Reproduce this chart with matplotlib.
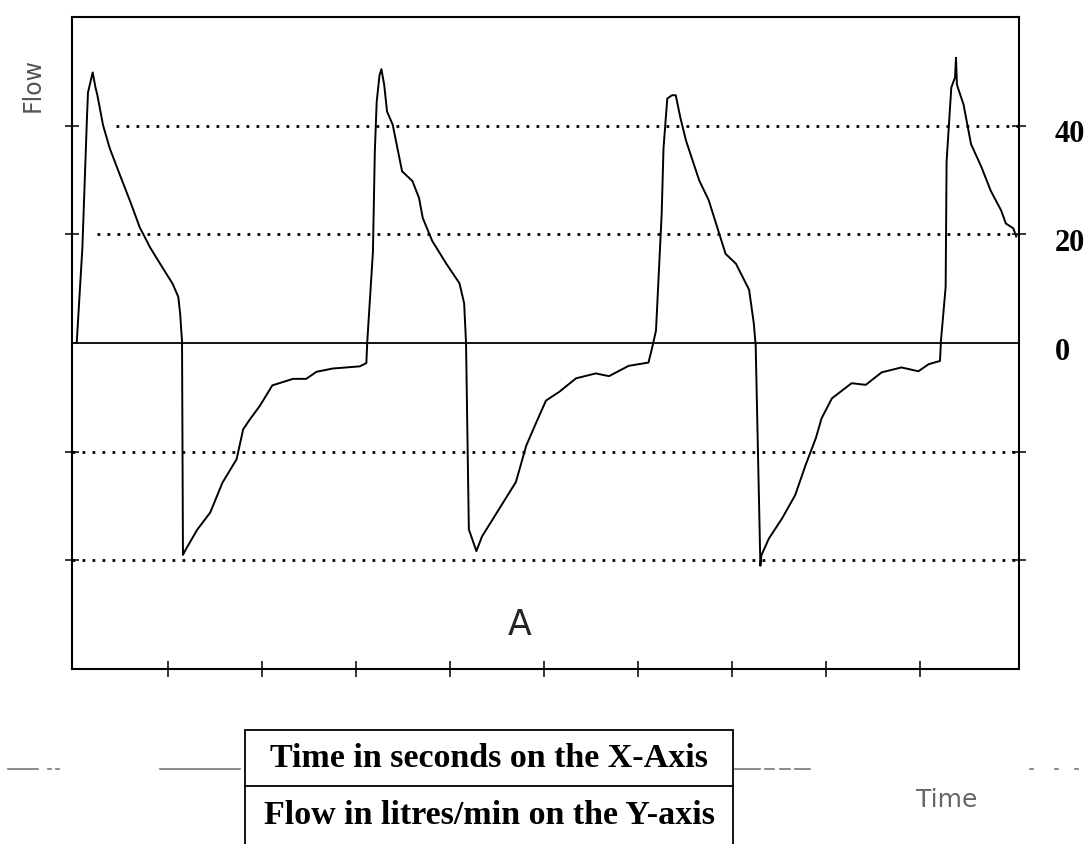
import matplotlib.pyplot as plt
from matplotlib.patches import Rectangle
from matplotlib.lines import Line2D

# flow trace (time in s, flow in litres/min)
time_s = [0.03, 0.09, 0.14, 0.15, 0.20, 0.23, 0.25, 0.31, 0.38, 0.49, 0.60, 0.70, 0.81,
          0.92, 1.05, 1.11, 1.13, 1.15, 1.16, 1.18, 1.31, 1.45, 1.58, 1.73, 1.80, 1.87,
          1.98, 2.11, 2.33, 2.47, 2.58, 2.75, 3.04, 3.11, 3.12,
          3.18, 3.20, 3.22, 3.25, 3.27, 3.30, 3.33, 3.39, 3.49, 3.60, 3.67, 3.71, 3.81,
          3.96, 4.10, 4.15, 4.17, 4.20, 4.28, 4.34, 4.52, 4.70, 4.81, 4.92, 5.02, 5.16,
          5.34, 5.55, 5.69, 5.90, 6.11, 6.15,
          6.19, 6.25, 6.27, 6.31, 6.36, 6.40, 6.45, 6.51, 6.65, 6.75, 6.93, 7.04, 7.18,
          7.23, 7.25, 7.30, 7.31, 7.39, 7.53, 7.67, 7.78, 7.89, 7.95, 8.06, 8.27, 8.42,
          8.59, 8.80, 8.98, 9.09, 9.21, 9.22,
          9.27, 9.28, 9.33, 9.37, 9.38, 9.39, 9.40, 9.46, 9.54, 9.65, 9.75, 9.86, 9.91,
          9.99, 10.02]
flow_lpm = [0.0, 17.4, 41.9, 46.1, 49.8, 47.0, 45.6, 40.1, 35.9, 30.9, 26.0, 21.3, 17.6,
            14.5, 10.9, 8.5, 5.4, 0.3, -39.0, -38.3, -34.4, -31.2, -25.7, -21.4, -15.9, -14.1,
            -11.5, -7.8, -6.6, -6.6, -5.3, -4.7, -4.3, -3.7, 0.3,
            16.8, 35.2, 44.4, 49.3, 50.4, 47.5, 42.6, 40.2, 31.6, 29.8, 26.7, 23.0, 18.8,
            14.6, 11.0, 7.3, 0.0, -34.3, -38.3, -35.6, -30.6, -25.6, -18.9, -14.5, -10.6, -9.0,
            -6.5, -5.6, -6.1, -4.2, -3.6, -0.8,
            2.3, 23.6, 35.9, 45.0, 45.6, 45.6, 41.4, 37.2, 29.9, 26.3, 16.4, 14.6, 9.8,
            3.6, -0.5, -41.0, -39.1, -36.0, -32.3, -28.0, -22.5, -17.5, -13.9, -10.2, -7.4, -7.7,
            -5.4, -4.5, -5.2, -3.9, -3.3, 0.4,
            10.3, 33.4, 47.0, 48.9, 52.5, 47.6, 47.0, 43.9, 36.6, 32.4, 28.0, 24.4, 22.0,
            21.1, 19.6]

grid_levels = [40, 20, -20, -40]
time_ticks = [1, 2, 3, 4, 5, 6, 7, 8, 9]
right_labels = [40, 20, 0]
table_rows = ['Time in seconds on the X-Axis', 'Flow in litres/min on the Y-axis']

W, H = 1089, 845
fig = plt.figure(figsize=(W / 100, H / 100), dpi=100)
ax = fig.add_axes([72 / W, 1 - 670 / H, 947 / W, 652 / H])

# dotted reference lines (the 40 and 20 ones start right of the first peak on the scan)
starts = {40: 0.45, 20: 0.25, -20: -0.02, -40: -0.02}
for lev in grid_levels:
    ax.plot([starts[lev], 10.05], [lev, lev], color='black', linewidth=2.0,
            linestyle=(0, (1, 2.6)), dash_capstyle='butt', zorder=1)

ax.axhline(0, color='black', linewidth=1.3, zorder=2)
ax.plot(time_s, flow_lpm, color='black', linewidth=1.4, zorder=3)

ax.set_xlim(-0.02, 10.05)
ax.set_ylim(-60, 60)
ax.set_xticks(time_ticks)
ax.set_xticklabels([])
ax.set_yticks(grid_levels)
ax.set_yticklabels([])
ax.tick_params(axis='x', direction='inout', length=12, width=1.1, color='black')
ax.tick_params(axis='y', direction='inout', length=10, width=1.1, color='black',
               left=True, right=True)
for sp in ax.spines.values():
    sp.set_linewidth(1.5)
    sp.set_color('black')

for v in right_labels:
    ax.text(1.038, v - 1.5, str(v), transform=ax.get_yaxis_transform(),
            ha='left', va='center', fontsize=22, fontweight='bold',
            family='Liberation Serif', clip_on=False)

fig.text(33 / W, 1 - 85 / H, 'Flow', rotation=90, ha='center', va='center',
         fontsize=17, color='#555555')
fig.text(520 / W, 1 - 625 / H, 'A', ha='center', va='center', fontsize=25,
         color='#222222')
fig.text(947 / W, 1 - 800 / H, 'Time', ha='center', va='center', fontsize=18,
         color='#666666')

# faint bits of a scanned baseline under the chart
scan_bits = [(8, 38), (48, 51), (56, 59), (160, 240), (735, 760), (765, 774),
             (780, 790), (795, 810), (1030, 1033), (1055, 1058), (1075, 1078)]
for x0, x1 in scan_bits:
    fig.add_artist(Line2D([x0 / W, x1 / W], [1 - 770 / H] * 2, color='#777777',
                          linewidth=1.2, zorder=0))

# caption table
box = Rectangle((245 / W, -0.05), (733 - 245) / W, 0.05 + (845 - 731) / H,
                transform=fig.transFigure, facecolor='white', edgecolor='black',
                linewidth=1.3, zorder=5)
fig.add_artist(box)
fig.add_artist(Line2D([245 / W, 733 / W], [1 - 787 / H] * 2, color='black',
                      linewidth=1.3, zorder=6))
for i, row in enumerate(table_rows):
    fig.text(489 / W, 1 - (759 + 57 * i) / H, row, ha='center', va='center',
             fontsize=24.5, fontweight='bold', family='Liberation Serif', zorder=7)

fig.savefig('out.png', dpi=100)
